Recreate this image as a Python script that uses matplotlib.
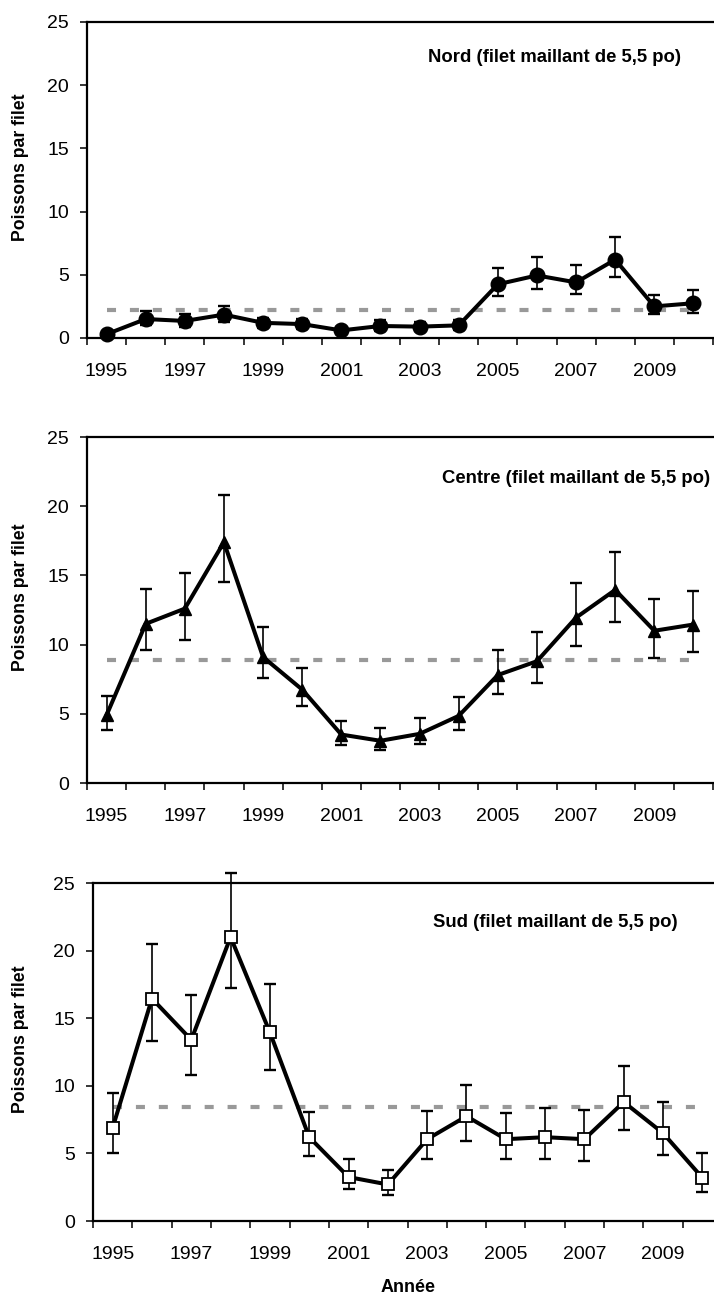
import numpy as np
import matplotlib
matplotlib.use("Agg")
import matplotlib.pyplot as plt
from matplotlib.ticker import FixedLocator, FixedFormatter

plt.rcParams['font.family'] = ['Liberation Sans', 'DejaVu Sans']
plt.rcParams['lines.scale_dashes'] = False

years = list(range(1995, 2011))
year_labels = [str(y) for y in years[::2]]

# Nord (circles)
nord_val = [0.3, 1.5, 1.35, 1.85, 1.2, 1.1, 0.6, 0.95, 0.9, 1.0, 4.25, 4.95, 4.4, 6.2, 2.5, 2.75]
nord_low = [0.15, 1.0, 0.85, 1.3, 0.8, 0.7, 0.3, 0.55, 0.55, 0.6, 3.3, 3.85, 3.45, 4.85, 1.87, 2.0]
nord_high = [0.5, 2.1, 1.9, 2.55, 1.6, 1.5, 0.85, 1.45, 1.3, 1.45, 5.5, 6.4, 5.8, 8.0, 3.4, 3.8]
nord_ref = 2.2

# Centre (triangles)
centre_val = [4.9, 11.5, 12.6, 17.4, 9.1, 6.75, 3.5, 3.05, 3.55, 4.85, 7.8, 8.8, 11.95, 13.95, 11.0, 11.45]
centre_low = [3.8, 9.6, 10.35, 14.5, 7.6, 5.55, 2.72, 2.4, 2.8, 3.85, 6.4, 7.25, 9.9, 11.6, 9.05, 9.5]
centre_high = [6.3, 14.0, 15.2, 20.8, 11.25, 8.3, 4.5, 4.0, 4.7, 6.2, 9.6, 10.9, 14.45, 16.7, 13.3, 13.9]
centre_ref = 8.9

# Sud (open squares)
sud_val = [6.9, 16.45, 13.4, 21.0, 13.95, 6.2, 3.25, 2.7, 6.05, 7.75, 6.05, 6.2, 6.05, 8.8, 6.5, 3.2]
sud_low = [5.05, 13.3, 10.8, 17.2, 11.2, 4.8, 2.4, 1.95, 4.55, 5.95, 4.55, 4.62, 4.45, 6.72, 4.87, 2.15]
sud_high = [9.45, 20.5, 16.7, 25.75, 17.5, 8.05, 4.55, 3.75, 8.15, 10.05, 8.0, 8.37, 8.2, 11.5, 8.82, 5.0]
sud_ref = 8.45

titles = ["Nord (filet maillant de 5,5 po)",
          "Centre (filet maillant de 5,5 po)",
          "Sud (filet maillant de 5,5 po)"]
ylabel = "Poissons par filet"
xlabel = "Année"

W, H = 714, 1297
fig = plt.figure(figsize=(W / 100, H / 100), dpi=100)

# panel geometry in pixels: left, top, bottom, width
geo = [(87, 22, 338, 626), (87, 437, 783, 626), (93, 883, 1221, 629)]
series = [
    (nord_val, nord_low, nord_high, nord_ref, dict(marker='o', ms=10.5, mfc='black', mec='black')),
    (centre_val, centre_low, centre_high, centre_ref, dict(marker='^', ms=9, mfc='black', mec='black')),
    (sud_val, sud_low, sud_high, sud_ref, dict(marker='s', ms=8.5, mfc='white', mec='black', mew=1.3)),
]
title_pos = [(555, 62), (576, 483), (555, 927)]

x = np.arange(len(years))
for i, ((l, t, b, w), (val, lo, hi, ref, mk)) in enumerate(zip(geo, series)):
    ax = fig.add_axes([l / W, 1 - b / H, w / W, (b - t) / H])
    val = np.array(val); lo = np.array(lo); hi = np.array(hi)
    ax.plot([x[0], x[-1]], [ref, ref], color='#999999', lw=3.0,
            dashes=(6.5, 10), zorder=1, solid_capstyle='butt')
    ax.errorbar(x, val, yerr=[val - lo, hi - val], fmt='none', ecolor='black',
                elinewidth=1.2, capsize=4.3, capthick=1.7, zorder=2, clip_on=False)
    ax.plot(x, val, color='black', lw=2.9, zorder=3, clip_on=False, **mk)
    ax.set_xlim(-0.5, 15.5)
    ax.set_ylim(0, 25)
    ax.set_yticks([0, 5, 10, 15, 20, 25])
    ax.tick_params(axis='y', direction='out', length=5, width=1.1, labelsize=14, pad=8)
    ax.xaxis.set_major_locator(FixedLocator(np.arange(-0.5, 16, 1)))
    ax.xaxis.set_major_formatter(FixedFormatter([''] * 17))
    ax.xaxis.set_minor_locator(FixedLocator(x[::2]))
    ax.xaxis.set_minor_formatter(FixedFormatter(year_labels))
    ax.tick_params(axis='x', which='major', direction='out', length=5, width=1.1)
    ax.tick_params(axis='x', which='minor', length=0, labelsize=14, pad=18)
    for s in ['left', 'bottom', 'top']:
        ax.spines[s].set_linewidth(1.6)
    ax.spines['right'].set_visible(False)
    cy = (t + b) / 2 - 13
    fig.text(21 / W, 1 - cy / H, ylabel, rotation=90, ha='center', va='center',
             fontsize=12.7, fontweight='bold')
    tx, ty = title_pos[i]
    fig.text(tx / W, 1 - ty / H, titles[i], ha='center', va='baseline',
             fontsize=13.3, fontweight='bold')

fig.text(408 / W, 1 - 1292 / H, xlabel, ha='center', va='baseline',
         fontsize=13, fontweight='bold')

fig.savefig('out.png', dpi=100)
